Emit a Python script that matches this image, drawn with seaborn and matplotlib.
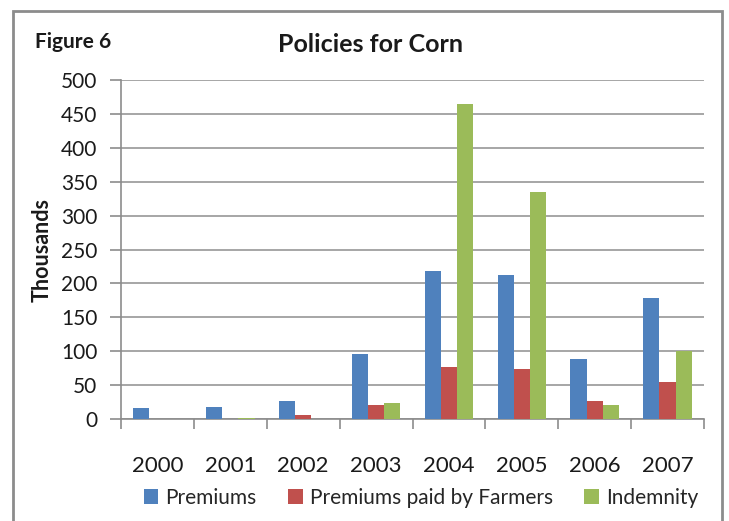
import matplotlib
matplotlib.use("Agg")
import matplotlib.pyplot as plt
from matplotlib.patches import Rectangle, Patch
import seaborn as sns
import pandas as pd
import numpy as np

years = ["2000", "2001", "2002", "2003", "2004", "2005", "2006", "2007"]
premiums = [16, 18, 26, 96, 218, 212, 88, 178]
premiums_farmers = [0, 0, 6, 20, 76, 74, 26, 54]
indemnity = [0, 2, 0, 24, 464, 335, 20, 100]
series_names = ["Premiums", "Premiums paid by Farmers", "Indemnity"]
colors = ["#4F81BD", "#C0504D", "#9BBB59"]
y_ticks = list(range(0, 501, 50))

df = pd.DataFrame({
    "Year": years * 3,
    "Series": sum([[s] * len(years) for s in series_names], []),
    "Value": premiums + premiums_farmers + indemnity,
})

sns.set_theme(style="white")
plt.rcParams["font.family"] = ["Lato", "DejaVu Sans"]

W, H = 729, 521
fig = plt.figure(figsize=(W / 100, H / 100), dpi=100)
fig.patch.set_facecolor("white")

# outer chart frame (open at the bottom edge of the image)
fig.patches.append(Rectangle((13 / W, -0.05), (722 - 13) / W, 1.05 - 11 / H,
                             transform=fig.transFigure, fill=False,
                             edgecolor="#8C8C8C", linewidth=2.0, zorder=0))

ax = fig.add_axes([121 / W, 1 - 419 / H, (704 - 121) / W, (419 - 80) / H])
ax.set_facecolor("none")

sns.barplot(data=df, x="Year", y="Value", hue="Series", hue_order=series_names,
            palette=colors, width=0.667, saturation=1, ax=ax, legend=False,
            linewidth=0, zorder=3)

ax.set_ylim(0, 500)
ax.set_xlim(-0.5, len(years) - 0.5)
ax.set_yticks(y_ticks)
ax.set_yticklabels([str(v) for v in y_ticks], fontsize=15, color="#1a1a1a")
ax.yaxis.grid(True, color="#A6A6A6", linewidth=1.4, zorder=0)
ax.xaxis.grid(False)

ax.set_xticks(range(len(years)))
ax.set_xticklabels(years, fontsize=16, color="#1a1a1a")
ax.tick_params(axis="x", length=0, pad=27)
ax.set_xticks(np.arange(-0.5, len(years), 1.0), minor=True)
ax.tick_params(axis="x", which="minor", length=7, width=1.2, color="#8C8C8C",
               direction="out", bottom=True)
ax.tick_params(axis="y", length=8, width=1.2, color="#8C8C8C", direction="out",
               left=True, pad=9)

for side in ["top", "right"]:
    ax.spines[side].set_visible(False)
for side in ["left", "bottom"]:
    ax.spines[side].set_color("#8C8C8C")
    ax.spines[side].set_linewidth(1.2)

ax.set_xlabel("")
ax.set_ylabel("Thousands", fontsize=15.5, fontweight="bold", color="#1a1a1a",
              labelpad=6)

fig.text(35 / W, 1 - 42 / H, "Figure 6", fontsize=15, fontweight="bold",
         ha="left", va="center", color="#1a1a1a")
fig.text(370 / W, 1 - 45 / H, "Policies for Corn", fontsize=18, fontweight="bold",
         ha="center", va="center", color="#1a1a1a")

handles = [Patch(facecolor=c, edgecolor="none") for c in colors]
fig.legend(handles, series_names, loc="center", bbox_to_anchor=(421 / W, 1 - 498 / H),
           ncol=3, frameon=False, fontsize=15, handlelength=0.7,
           handleheight=0.7, handletextpad=0.35, columnspacing=1.5)

fig.savefig("out.png", dpi=100, facecolor="white")
